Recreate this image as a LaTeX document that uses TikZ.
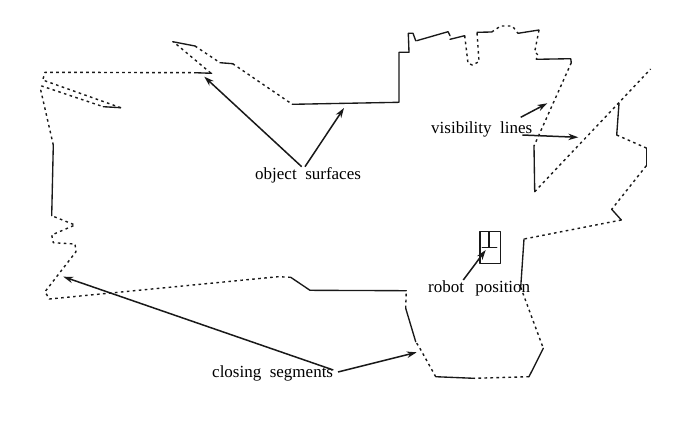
\documentclass[tikz,border=0pt]{standalone}
\usepackage{fontspec}
\setmainfont{Liberation Serif}
\usetikzlibrary{arrows.meta}
\tikzset{
  surf/.style={line width=1.35pt,line join=round,line cap=round,black!90},
  vis/.style={line width=1.4pt,dash pattern=on 2.6pt off 3.4pt,line join=round,black!90},
  pointer/.style={line width=1.5pt,black!90,-{Stealth[length=10pt,width=6.5pt]}},
  lab/.style={anchor=base west,inner sep=0pt,font=\fontsize{17}{18}\selectfont,black}
}
\begin{document}
\begin{tikzpicture}[x=1pt,y=-1pt]
\useasboundingbox (0,0) rectangle (688,421);
\fill[white] (0,0) rectangle (688,421);
% solid object surfaces
\draw[surf] (172.7,41.7) -- (195,46);
\draw[surf] (220,62.7) -- (232.7,63.7);
\draw[surf] (292.3,104.3) -- (399,102.3) -- (399,52.3) -- (409,52.3) -- (408.3,33.3) -- (413,33.3) -- (415.7,40.7);
\draw[surf] (416.7,40.7) -- (448,31.7) -- (450,35.7);
\draw[surf] (450,39.3) -- (464.7,35.7);
\draw[surf] (477,32.3) -- (491.7,32);
\draw[surf] (518,33.3) -- (539,30);
\draw[surf] (536.3,59.3) -- (570.7,58.7) -- (571.3,62.7);
\draw[surf] (534,146) -- (534.7,191.7);
\draw[surf] (619,103.3) -- (616.7,135);
\draw[surf] (646.3,148) -- (646.3,165.7);
\draw[surf] (611.7,209.3) -- (621.3,220);
\draw[surf] (524,239) -- (520.7,287.3);
\draw[surf] (543.3,348.3) -- (529,376.7);
\draw[surf] (474,378.3) -- (435.7,376.7);
\draw[surf] (415.7,341.7) -- (405.7,308.3);
\draw[surf] (406.3,290.7) -- (310,290.3) -- (290.7,277.3);
\draw[surf] (51.7,215.7) -- (53.3,145);
\draw[surf] (103.3,106.7) -- (120.7,107.7);
\draw[surf] (195,72.7) -- (211.7,73.3);
% dashed visibility lines
\draw[vis] (195,46) -- (220,62.7);
\draw[vis] (232.7,63.7) -- (292.3,104.3);
\draw[vis] (464.7,35.7) -- (468,63.3) -- (472.3,65) -- (479,61.7) -- (477,32.3);
\draw[vis] (491.7,32) -- (500.7,26) -- (512.3,26) -- (518,33.3);
\draw[vis] (539,30) -- (534.7,51.7) -- (538,55) -- (536.3,59.3);
\draw[vis] (571.3,62.7) -- (534,146);
\draw[vis] (534.7,191.7) -- (650.7,69);
\draw[vis] (616.7,135) -- (646.3,148);
\draw[vis] (646.3,165.7) -- (611.7,209.3);
\draw[vis] (621.3,220) -- (524,239);
\draw[vis] (520.7,287.3) -- (543.3,348.3);
\draw[vis] (529,376.7) -- (474,378.3);
\draw[vis] (435.7,376.7) -- (419,346.7) -- (415.7,341.7);
\draw[vis] (405.7,308.3) -- (406.3,290.7);
\draw[vis] (290.7,277.3) -- (278,276.7) -- (49.3,299) -- (45,291.7) -- (76,251.7) -- (75,244) -- (53.3,242.7) -- (51.7,235) -- (75,225) -- (51.7,215.7);
\draw[vis] (53.3,145) -- (40.7,90) -- (41.7,86) -- (103.3,106.7);
\draw[vis] (120.7,107.7) -- (42.7,80) -- (45,72.3) -- (195,72.7);
\draw[vis] (210.7,73) -- (173.3,41.7);
% robot
\draw[surf] (480,231.7) rectangle (500.7,263.3);
\draw[surf] (482.3,247.3) -- (496.7,247.3);
\draw[surf] (489,232.3) -- (489,247.3);
% labels
\node[lab] (objs) at (255,179) {object\ \ surfaces};
\node[lab] (visl) at (431,133) {visibility\ \ lines};
\node[lab] (robp) at (428,292.5) {robot\ \ \,position};
\node[lab] (clos) at (212,377) {closing\ \ segments};
% pointer ends
\coordinate (o1s) at (301.7,166.7); \coordinate (o1e) at (204.3,76.7);
\coordinate (o2s) at (305,166.7);   \coordinate (o2e) at (344,108);
\coordinate (v1s) at (520.7,117.3); \coordinate (v1e) at (547.3,103.3);
\coordinate (v2s) at (522.3,135);   \coordinate (v2e) at (578.3,137.3);
\coordinate (r1s) at (463.3,280);   \coordinate (r1e) at (485.7,250);
\coordinate (c1s) at (333.3,370);   \coordinate (c1e) at (63.3,276.7);
\coordinate (c2s) at (338,372);     \coordinate (c2e) at (416.7,352.3);
\draw[pointer] (o1s) -- (o1e);
\draw[pointer] (o2s) -- (o2e);
\draw[pointer] (v1s) -- (v1e);
\draw[pointer] (v2s) -- (v2e);
\draw[pointer] (r1s) -- (r1e);
\draw[pointer] (c1s) -- (c1e);
\draw[pointer] (c2s) -- (c2e);
\end{tikzpicture}
\end{document}
